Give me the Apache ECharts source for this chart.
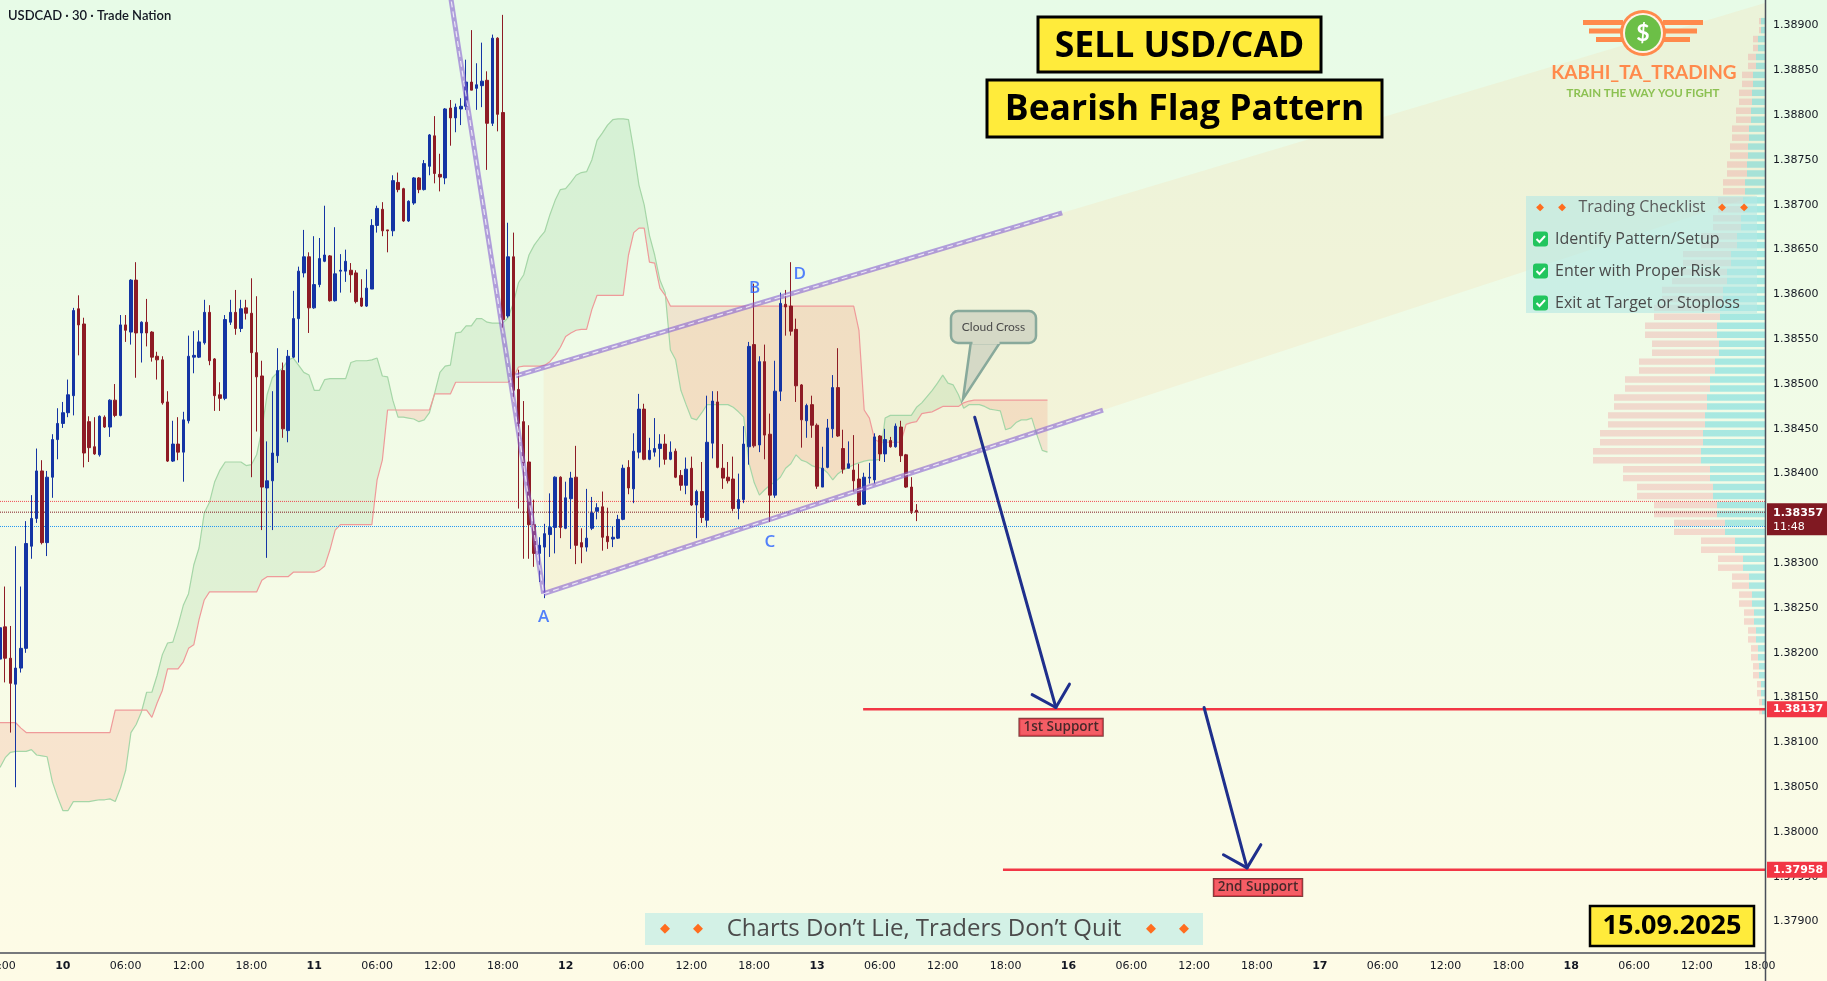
<!DOCTYPE html>
<html>
<head>
<meta charset="utf-8">
<title>USDCAD 30 - Bearish Flag Pattern</title>
<script src="https://cdn.jsdelivr.net/npm/echarts@6/dist/echarts.min.js"></script>
<style>
html, body { margin: 0; padding: 0; overflow: hidden; background: #f3fbe6; }
#chart { width: 1827px; height: 981px; }
</style>
</head>
<body>
<div id="chart"></div>
<script>
// 30 min candles, [open, high, low, close]
var candles = [
  [1.38193, 1.38237, 1.38186, 1.38228], [1.38229, 1.38274, 1.38167, 1.38194], [1.38194, 1.38230, 1.38111, 1.38166], [1.38165, 1.38319, 1.38050, 1.38183],
  [1.38183, 1.38274, 1.38178, 1.38205], [1.38205, 1.38347, 1.38200, 1.38322], [1.38319, 1.38376, 1.38305, 1.38350], [1.38350, 1.38428, 1.38345, 1.38403],
  [1.38403, 1.38415, 1.38321, 1.38323], [1.38323, 1.38403, 1.38308, 1.38396], [1.38396, 1.38444, 1.38373, 1.38438], [1.38438, 1.38473, 1.38416, 1.38456],
  [1.38456, 1.38480, 1.38451, 1.38468], [1.38468, 1.38505, 1.38463, 1.38488], [1.38487, 1.38585, 1.38465, 1.38582], [1.38584, 1.38599, 1.38532, 1.38566],
  [1.38567, 1.38574, 1.38407, 1.38423], [1.38458, 1.38464, 1.38413, 1.38429], [1.38430, 1.38463, 1.38421, 1.38422], [1.38421, 1.38465, 1.38419, 1.38464],
  [1.38463, 1.38465, 1.38451, 1.38452], [1.38452, 1.38483, 1.38441, 1.38482], [1.38482, 1.38500, 1.38463, 1.38465], [1.38465, 1.38577, 1.38464, 1.38566],
  [1.38566, 1.38577, 1.38547, 1.38560], [1.38558, 1.38617, 1.38544, 1.38616], [1.38616, 1.38636, 1.38507, 1.38557], [1.38557, 1.38570, 1.38524, 1.38569],
  [1.38569, 1.38595, 1.38542, 1.38557], [1.38558, 1.38559, 1.38525, 1.38530], [1.38531, 1.38536, 1.38505, 1.38527], [1.38527, 1.38531, 1.38477, 1.38479],
  [1.38480, 1.38492, 1.38413, 1.38414], [1.38414, 1.38459, 1.38413, 1.38433], [1.38433, 1.38463, 1.38415, 1.38424], [1.38424, 1.38469, 1.38391, 1.38460],
  [1.38459, 1.38554, 1.38456, 1.38531], [1.38530, 1.38559, 1.38512, 1.38532], [1.38530, 1.38560, 1.38529, 1.38547], [1.38546, 1.38594, 1.38544, 1.38580],
  [1.38580, 1.38588, 1.38521, 1.38526], [1.38528, 1.38529, 1.38470, 1.38487], [1.38488, 1.38502, 1.38470, 1.38484], [1.38484, 1.38577, 1.38482, 1.38572],
  [1.38569, 1.38594, 1.38566, 1.38580], [1.38580, 1.38605, 1.38555, 1.38562], [1.38562, 1.38594, 1.38558, 1.38584], [1.38585, 1.38594, 1.38572, 1.38579],
  [1.38579, 1.38618, 1.38396, 1.38535], [1.38535, 1.38598, 1.38447, 1.38508], [1.38509, 1.38526, 1.38337, 1.38385], [1.38384, 1.38436, 1.38306, 1.38392],
  [1.38392, 1.38492, 1.38337, 1.38423], [1.38420, 1.38540, 1.38412, 1.38515], [1.38515, 1.38524, 1.38440, 1.38450], [1.38448, 1.38538, 1.38435, 1.38531],
  [1.38530, 1.38604, 1.38529, 1.38573], [1.38573, 1.38631, 1.38524, 1.38626], [1.38624, 1.38672, 1.38619, 1.38642], [1.38642, 1.38647, 1.38557, 1.38585],
  [1.38585, 1.38665, 1.38584, 1.38611], [1.38611, 1.38663, 1.38608, 1.38640], [1.38637, 1.38699, 1.38636, 1.38644], [1.38643, 1.38644, 1.38592, 1.38593],
  [1.38593, 1.38675, 1.38592, 1.38623], [1.38626, 1.38645, 1.38602, 1.38627], [1.38626, 1.38650, 1.38614, 1.38637], [1.38627, 1.38635, 1.38602, 1.38622],
  [1.38624, 1.38627, 1.38590, 1.38592], [1.38596, 1.38617, 1.38586, 1.38587], [1.38587, 1.38628, 1.38586, 1.38607], [1.38606, 1.38684, 1.38606, 1.38677],
  [1.38677, 1.38699, 1.38669, 1.38696], [1.38695, 1.38703, 1.38665, 1.38671], [1.38672, 1.38672, 1.38647, 1.38671], [1.38671, 1.38733, 1.38665, 1.38727],
  [1.38725, 1.38736, 1.38714, 1.38717], [1.38718, 1.38719, 1.38681, 1.38682], [1.38682, 1.38705, 1.38681, 1.38704], [1.38702, 1.38731, 1.38700, 1.38730],
  [1.38730, 1.38731, 1.38713, 1.38717], [1.38717, 1.38750, 1.38716, 1.38746], [1.38743, 1.38779, 1.38733, 1.38778], [1.38777, 1.38799, 1.38724, 1.38735],
  [1.38734, 1.38757, 1.38715, 1.38731], [1.38730, 1.38808, 1.38723, 1.38807], [1.38808, 1.38817, 1.38766, 1.38797], [1.38797, 1.38813, 1.38781, 1.38809],
  [1.38807, 1.38819, 1.38789, 1.38810], [1.38810, 1.38862, 1.38806, 1.38837], [1.38837, 1.38895, 1.38828, 1.38828], [1.38830, 1.38858, 1.38806, 1.38834],
  [1.38833, 1.38881, 1.38809, 1.38838], [1.38839, 1.38849, 1.38739, 1.38791], [1.38791, 1.38890, 1.38788, 1.38886], [1.38886, 1.38887, 1.38782, 1.38801],
  [1.38803, 1.38912, 1.38559, 1.38572], [1.38576, 1.38680, 1.38574, 1.38642], [1.38642, 1.38669, 1.38479, 1.38493], [1.38494, 1.38516, 1.38361, 1.38456],
  [1.38458, 1.38481, 1.38305, 1.38412], [1.38413, 1.38454, 1.38305, 1.38343], [1.38343, 1.38371, 1.38296, 1.38311], [1.38311, 1.38329, 1.38279, 1.38320],
  [1.38318, 1.38344, 1.38261, 1.38333], [1.38332, 1.38378, 1.38307, 1.38340], [1.38340, 1.38397, 1.38311, 1.38396], [1.38396, 1.38397, 1.38328, 1.38340],
  [1.38339, 1.38391, 1.38338, 1.38373], [1.38372, 1.38402, 1.38316, 1.38395], [1.38396, 1.38431, 1.38299, 1.38320], [1.38323, 1.38339, 1.38300, 1.38318],
  [1.38318, 1.38383, 1.38313, 1.38328], [1.38339, 1.38374, 1.38337, 1.38356], [1.38358, 1.38367, 1.38349, 1.38362], [1.38363, 1.38380, 1.38314, 1.38329],
  [1.38330, 1.38362, 1.38316, 1.38324], [1.38327, 1.38341, 1.38318, 1.38329], [1.38328, 1.38354, 1.38327, 1.38349], [1.38349, 1.38410, 1.38348, 1.38406],
  [1.38407, 1.38415, 1.38377, 1.38384], [1.38383, 1.38445, 1.38367, 1.38425], [1.38424, 1.38489, 1.38417, 1.38472], [1.38472, 1.38478, 1.38415, 1.38416],
  [1.38416, 1.38440, 1.38415, 1.38426], [1.38424, 1.38462, 1.38419, 1.38428], [1.38428, 1.38444, 1.38407, 1.38433], [1.38433, 1.38444, 1.38410, 1.38416],
  [1.38416, 1.38436, 1.38415, 1.38424], [1.38425, 1.38428, 1.38395, 1.38396], [1.38398, 1.38404, 1.38381, 1.38387], [1.38387, 1.38418, 1.38377, 1.38405],
  [1.38406, 1.38419, 1.38364, 1.38365], [1.38365, 1.38382, 1.38328, 1.38380], [1.38380, 1.38413, 1.38345, 1.38351], [1.38348, 1.38487, 1.38340, 1.38435],
  [1.38434, 1.38492, 1.38417, 1.38481], [1.38480, 1.38492, 1.38406, 1.38407], [1.38406, 1.38433, 1.38383, 1.38395], [1.38396, 1.38413, 1.38389, 1.38392],
  [1.38394, 1.38419, 1.38358, 1.38361], [1.38361, 1.38400, 1.38349, 1.38371], [1.38371, 1.38453, 1.38367, 1.38433], [1.38430, 1.38547, 1.38410, 1.38542],
  [1.38544, 1.38612, 1.38429, 1.38431], [1.38432, 1.38531, 1.38424, 1.38525], [1.38525, 1.38544, 1.38416, 1.38443], [1.38444, 1.38467, 1.38346, 1.38376],
  [1.38376, 1.38526, 1.38373, 1.38492], [1.38492, 1.38602, 1.38481, 1.38590], [1.38589, 1.38605, 1.38554, 1.38586], [1.38587, 1.38636, 1.38554, 1.38559],
  [1.38561, 1.38573, 1.38480, 1.38498], [1.38499, 1.38500, 1.38429, 1.38460], [1.38459, 1.38478, 1.38440, 1.38476], [1.38477, 1.38487, 1.38440, 1.38454],
  [1.38454, 1.38456, 1.38383, 1.38386], [1.38385, 1.38430, 1.38385, 1.38406], [1.38407, 1.38461, 1.38406, 1.38451], [1.38450, 1.38510, 1.38440, 1.38496],
  [1.38496, 1.38540, 1.38441, 1.38442], [1.38428, 1.38449, 1.38400, 1.38405], [1.38406, 1.38436, 1.38406, 1.38411], [1.38404, 1.38443, 1.38380, 1.38392],
  [1.38394, 1.38411, 1.38364, 1.38365], [1.38366, 1.38401, 1.38365, 1.38396], [1.38395, 1.38412, 1.38389, 1.38396], [1.38393, 1.38445, 1.38389, 1.38441],
  [1.38442, 1.38443, 1.38414, 1.38422], [1.38422, 1.38450, 1.38413, 1.38438], [1.38437, 1.38441, 1.38429, 1.38430], [1.38430, 1.38456, 1.38429, 1.38453],
  [1.38452, 1.38459, 1.38413, 1.38420], [1.38421, 1.38422, 1.38384, 1.38385], [1.38385, 1.38396, 1.38355, 1.38358], [1.38359, 1.38366, 1.38347, 1.38357]
];

// Ichimoku leading span A / span B (plotted 26 bars ahead)
var spanA = [
  1.38072, 1.38083, 1.38089, 1.38090, 1.38090, 1.38090, 1.38092, 1.38086, 1.38085, 1.38084,
  1.38056, 1.38039, 1.38024, 1.38024, 1.38034, 1.38034, 1.38034, 1.38034, 1.38035, 1.38036,
  1.38036, 1.38037, 1.38034, 1.38049, 1.38069, 1.38111, 1.38120, 1.38134, 1.38156, 1.38156,
  1.38175, 1.38198, 1.38211, 1.38212, 1.38231, 1.38253, 1.38266, 1.38298, 1.38317, 1.38356,
  1.38368, 1.38391, 1.38404, 1.38413, 1.38413, 1.38413, 1.38413, 1.38409, 1.38410, 1.38421,
  1.38449, 1.38488, 1.38507, 1.38513, 1.38518, 1.38527, 1.38529, 1.38521, 1.38513, 1.38510,
  1.38493, 1.38493, 1.38505, 1.38506, 1.38506, 1.38506, 1.38506, 1.38524, 1.38526, 1.38526,
  1.38526, 1.38527, 1.38529, 1.38509, 1.38508, 1.38482, 1.38463, 1.38463, 1.38462, 1.38461,
  1.38458, 1.38460, 1.38468, 1.38490, 1.38513, 1.38520, 1.38521, 1.38557, 1.38558, 1.38565,
  1.38565, 1.38573, 1.38573, 1.38569, 1.38568, 1.38568, 1.38568, 1.38574, 1.38590, 1.38613,
  1.38622, 1.38644, 1.38655, 1.38663, 1.38670, 1.38689, 1.38705, 1.38717, 1.38718, 1.38725,
  1.38733, 1.38736, 1.38737, 1.38750, 1.38772, 1.38780, 1.38789, 1.38795, 1.38796, 1.38796,
  1.38795, 1.38761, 1.38722, 1.38700, 1.38666, 1.38644, 1.38616, 1.38602, 1.38538, 1.38527,
  1.38493, 1.38477, 1.38462, 1.38460, 1.38468, 1.38477, 1.38477, 1.38477, 1.38477, 1.38477,
  1.38474, 1.38469, 1.38463, 1.38412, 1.38390, 1.38376, 1.38382, 1.38387, 1.38391, 1.38396,
  1.38406, 1.38411, 1.38421, 1.38415, 1.38413, 1.38409, 1.38407, 1.38406, 1.38401, 1.38393,
  1.38400, 1.38404, 1.38407, 1.38410, 1.38412, 1.38414, 1.38415, 1.38415, 1.38416, 1.38462,
  1.38465, 1.38465, 1.38465, 1.38465, 1.38465, 1.38474, 1.38479, 1.38486, 1.38493, 1.38501,
  1.38510, 1.38501, 1.38499, 1.38488, 1.38473, 1.38477, 1.38477, 1.38477, 1.38475, 1.38472,
  1.38471, 1.38470, 1.38449, 1.38451, 1.38457, 1.38460, 1.38460, 1.38462, 1.38443, 1.38426,
  1.38424
];
var spanB = [
  1.38122, 1.38122, 1.38122, 1.38122, 1.38116, 1.38111, 1.38111, 1.38111, 1.38111, 1.38111,
  1.38111, 1.38111, 1.38111, 1.38111, 1.38111, 1.38111, 1.38111, 1.38111, 1.38111, 1.38111,
  1.38111, 1.38111, 1.38136, 1.38136, 1.38136, 1.38136, 1.38136, 1.38136, 1.38136, 1.38128,
  1.38144, 1.38158, 1.38182, 1.38182, 1.38182, 1.38190, 1.38205, 1.38209, 1.38237, 1.38259,
  1.38268, 1.38268, 1.38268, 1.38268, 1.38268, 1.38268, 1.38268, 1.38268, 1.38268, 1.38268,
  1.38281, 1.38285, 1.38285, 1.38285, 1.38285, 1.38285, 1.38290, 1.38290, 1.38290, 1.38290,
  1.38290, 1.38292, 1.38297, 1.38315, 1.38337, 1.38343, 1.38343, 1.38343, 1.38343, 1.38343,
  1.38343, 1.38343, 1.38393, 1.38415, 1.38471, 1.38471, 1.38471, 1.38471, 1.38471, 1.38471,
  1.38471, 1.38471, 1.38471, 1.38489, 1.38489, 1.38489, 1.38489, 1.38502, 1.38502, 1.38502,
  1.38502, 1.38502, 1.38502, 1.38502, 1.38502, 1.38502, 1.38502, 1.38502, 1.38507, 1.38519,
  1.38520, 1.38520, 1.38520, 1.38520, 1.38521, 1.38525, 1.38532, 1.38541, 1.38553, 1.38557,
  1.38560, 1.38561, 1.38561, 1.38583, 1.38599, 1.38599, 1.38599, 1.38599, 1.38599, 1.38599,
  1.38644, 1.38669, 1.38674, 1.38674, 1.38636, 1.38635, 1.38607, 1.38599, 1.38587, 1.38587,
  1.38587, 1.38587, 1.38587, 1.38587, 1.38587, 1.38587, 1.38587, 1.38587, 1.38587, 1.38587,
  1.38587, 1.38587, 1.38587, 1.38587, 1.38587, 1.38587, 1.38587, 1.38587, 1.38587, 1.38587,
  1.38587, 1.38587, 1.38587, 1.38587, 1.38587, 1.38587, 1.38587, 1.38587, 1.38587, 1.38587,
  1.38587, 1.38587, 1.38587, 1.38587, 1.38560, 1.38471, 1.38462, 1.38438, 1.38435, 1.38435,
  1.38435, 1.38435, 1.38435, 1.38455, 1.38457, 1.38458, 1.38467, 1.38468, 1.38469, 1.38472,
  1.38475, 1.38475, 1.38475, 1.38475, 1.38479, 1.38481, 1.38482, 1.38482, 1.38482, 1.38482,
  1.38482, 1.38482, 1.38482, 1.38482, 1.38482, 1.38482, 1.38482, 1.38482, 1.38482, 1.38482,
  1.38482
];

// time axis: day 9 starts at 18:00, weekend (14, 15) is skipped
var sessionDays = ['9', '10', '11', '12', '13', '16', '17', '18'];
var firstSlot = 36;
var slotCount = 338;

var priceTicks = [1.379, 1.3795, 1.38, 1.3805, 1.381, 1.3815, 1.382, 1.3825, 1.383, 1.3835, 1.384,
  1.3845, 1.385, 1.3855, 1.386, 1.3865, 1.387, 1.3875, 1.388, 1.3885, 1.389];
var yMin = 1.37865, yMax = 1.389286;

// drawings, in [bar index, price]
var poleLine = [[85, 1.38971], [103.8, 1.38266]];
var flagUpper = [[98.5, 1.38509], [202.8, 1.38691]];
var flagLower = [[103.8, 1.38266], [210.6, 1.38471]];
var support1 = [[164.8, 1.38137], [337, 1.38137]];
var support2 = [[191.5, 1.37958], [337, 1.37958]];
var arrows = [[186.1, 1.38463, 201.6, 1.38139], [229.9, 1.38139, 238.1, 1.37960]];
var askPrice = 1.38369, lastPrice = 1.38357, bidPrice = 1.38341;
var countdown = '11:48';
var pointLabels = [['A', 103.8, 1.38240], ['B', 144.1, 1.38607], ['C', 147, 1.38323], ['D', 152.7, 1.38623]];
var supportLabels = [['1st Support', 202.6, 1.38117], ['2nd Support', 240.2, 1.37938]];

// visible range volume profile
var vpPrices = [1.3890, 1.3888, 1.3886, 1.3884, 1.3882, 1.3880, 1.3878, 1.3876, 1.3874, 1.3872,
  1.3870, 1.3868, 1.3866, 1.3864, 1.3862, 1.3860, 1.3858, 1.3856, 1.3854, 1.3852,
  1.3850, 1.3848, 1.3846, 1.3844, 1.3842, 1.3840, 1.3838, 1.3836, 1.3834, 1.3832,
  1.3830, 1.3828, 1.3826, 1.3824, 1.3822, 1.3820, 1.3818, 1.3816, 1.3814];
var vpUp = [4, 7, 9, 12, 13, 14, 16, 17, 18, 20, 22, 24, 28, 34, 38, 42, 45, 48, 46, 50,
  55, 58, 60, 62, 64, 55, 52, 48, 40, 30, 22, 16, 13, 11, 9, 7, 6, 4, 3];
var vpDown = [2, 5, 8, 11, 13, 15, 17, 18, 20, 22, 25, 28, 36, 48, 55, 61, 66, 72, 67, 76,
  85, 93, 97, 103, 108, 87, 76, 63, 51, 34, 25, 17, 13, 10, 8, 7, 6, 4, 3];
var vpScaleMax = 1765;

var categories = [];
for (var d = 0; d < sessionDays.length; d++) {
    for (var s = (d === 0 ? firstSlot : 0); s < 48 && categories.length < slotCount; s++) {
        var hh = Math.floor(s / 2);
        categories.push(s === 0 ? sessionDays[d] : (hh < 10 ? '0' : '') + hh + ':' + (s % 2 ? '30' : '00'));
    }
}
var lastIdx = slotCount - 1;

function lineAt(seg, x) {
    var t = (x - seg[0][0]) / (seg[1][0] - seg[0][0]);
    return seg[0][1] + t * (seg[1][1] - seg[0][1]);
}

var purple = 'rgba(135, 96, 210, 0.6)';
var cloudGreen = 'rgba(76, 175, 80, 0.12)';
var cloudRed = 'rgba(244, 112, 80, 0.16)';
var drawFont = '"Open Sans"';

function trendLine(seg) {
    return [
        { type: 'line', xAxisIndex: 1, yAxisIndex: 0, data: seg, symbol: 'none', silent: true, z: 6,
          lineStyle: { color: purple, width: 5 } },
        { type: 'line', xAxisIndex: 1, yAxisIndex: 0, data: seg, symbol: 'none', silent: true, z: 7,
          lineStyle: { color: 'rgba(255,255,255,0.75)', width: 1.2, type: [6, 4] } }
    ];
}

function priceLine(price, color, label) {
    var sr = {
        type: 'line', xAxisIndex: 1, yAxisIndex: 0, data: [[0, price], [lastIdx, price]],
        symbol: 'none', silent: true, z: 4,
        lineStyle: { color: color, width: 1, type: 'dotted' }
    };
    if (label) sr.endLabel = label;
    return sr;
}

var chart = echarts.init(document.getElementById('chart'));

var series = [
    // projected flag channel
    {
        type: 'custom', xAxisIndex: 1, yAxisIndex: 0, silent: true, z: 1,
        data: [[flagLower[0][0], flagLower[0][1]]],
        renderItem: function (params, api) {
            var x0 = flagLower[0][0], x1 = lastIdx;
            return {
                type: 'polygon',
                shape: { points: [
                    api.coord([x0, lineAt(flagUpper, x0)]), api.coord([x1, lineAt(flagUpper, x1)]),
                    api.coord([x1, lineAt(flagLower, x1)]), api.coord([x0, lineAt(flagLower, x0)])
                ] },
                style: { fill: 'rgba(255, 205, 140, 0.16)' }
            };
        }
    },
    // kumo
    {
        type: 'custom', xAxisIndex: 1, yAxisIndex: 0, silent: true, z: 1,
        data: [[0, spanA[0]]],
        renderItem: function (params, api) {
            var polys = [], top = [], bot = [];
            var curUp = spanA[0] >= spanB[0];
            function flush(up) {
                polys.push({ type: 'polygon', shape: { points: top.concat(bot.slice().reverse()) },
                    style: { fill: up ? cloudGreen : cloudRed } });
            }
            top.push(api.coord([0, spanA[0]]));
            bot.push(api.coord([0, spanB[0]]));
            for (var i = 1; i < spanA.length; i++) {
                var up = spanA[i] >= spanB[i];
                if (up !== curUp) {
                    var d0 = spanA[i - 1] - spanB[i - 1], d1 = spanA[i] - spanB[i];
                    var t = d0 / (d0 - d1);
                    var c = api.coord([i - 1 + t, spanA[i - 1] + t * (spanA[i] - spanA[i - 1])]);
                    top.push(c); bot.push(c);
                    flush(curUp);
                    top = [c]; bot = [c];
                    curUp = up;
                }
                top.push(api.coord([i, spanA[i]]));
                bot.push(api.coord([i, spanB[i]]));
            }
            flush(curUp);
            return { type: 'group', children: polys };
        }
    },
    {
        type: 'line', name: 'Lead 1', xAxisIndex: 1, yAxisIndex: 0, symbol: 'none', silent: true, z: 2,
        data: spanA.map(function (v, i) { return [i, v]; }),
        lineStyle: { color: '#a5d6a7', width: 1.2 }
    },
    {
        type: 'line', name: 'Lead 2', xAxisIndex: 1, yAxisIndex: 0, symbol: 'none', silent: true, z: 2,
        data: spanB.map(function (v, i) { return [i, v]; }),
        lineStyle: { color: '#ef9a9a', width: 1.2 }
    },
    // volume profile
    {
        type: 'custom', xAxisIndex: 2, yAxisIndex: 0, silent: true, z: 1,
        encode: { x: [1, 2], y: 0 },
        data: vpPrices.map(function (p, i) { return [p, vpUp[i], vpDown[i]]; }),
        renderItem: function (params, api) {
            var price = api.value(0), up = api.value(1), dn = api.value(2);
            var base = api.coord([0, price]);
            var xUp = api.coord([up, price])[0];
            var xAll = api.coord([up + dn, price])[0];
            var step = api.size([0, 0.0002])[1];
            var h = step * 0.36;
            var kids = [];
            [-0.25, 0.25].forEach(function (off) {
                var y = base[1] + off * step - h / 2;
                kids.push({ type: 'rect', shape: { x: xUp, y: y, width: base[0] - xUp, height: h },
                    style: { fill: 'rgba(0, 188, 212, 0.3)' } });
                kids.push({ type: 'rect', shape: { x: xAll, y: y, width: xUp - xAll, height: h },
                    style: { fill: 'rgba(239, 120, 130, 0.26)' } });
            });
            return { type: 'group', children: kids };
        }
    },
    priceLine(askPrice, 'rgba(242, 54, 69, 0.9)'),
    priceLine(bidPrice, '#2196f3'),
    priceLine(lastPrice, '#801922', {
        show: true, distance: 2, offset: [0, 7],
        formatter: function () { return '{p|' + lastPrice.toFixed(5) + '}\n{t|' + countdown + '}'; },
        backgroundColor: '#801922', padding: [3, 6, 2, 6],
        rich: {
            p: { color: '#fff', fontSize: 11, fontWeight: 'bold', fontFamily: 'DejaVu Sans', lineHeight: 14 },
            t: { color: '#fff', fontSize: 11, fontFamily: 'DejaVu Sans', lineHeight: 13 }
        }
    }),
    {
        type: 'candlestick', xAxisIndex: 0, yAxisIndex: 0, silent: true, z: 5, barWidth: 3,
        data: candles.map(function (c) { return [c[0], c[3], c[2], c[1]]; }),
        itemStyle: { color: '#1434a4', color0: '#8e1b25', borderColor: '#1434a4', borderColor0: '#8e1b25', borderWidth: 1 }
    }
];

series = series.concat(trendLine(poleLine), trendLine(flagUpper), trendLine(flagLower));

[support1, support2].forEach(function (seg) {
    series.push({
        type: 'line', xAxisIndex: 1, yAxisIndex: 0, data: seg, symbol: 'none', silent: true, z: 6,
        lineStyle: { color: '#f23645', width: 2.5 },
        endLabel: {
            show: true, distance: 2,
            formatter: function (p) { return p.value[1].toFixed(5); },
            backgroundColor: '#f23645', color: '#fff', padding: [3, 6, 2, 6],
            fontSize: 11, fontWeight: 'bold', fontFamily: 'DejaVu Sans'
        }
    });
});

series.push({
    type: 'custom', xAxisIndex: 1, yAxisIndex: 0, silent: true, z: 8,
    encode: { x: [0, 2], y: [1, 3] },
    data: arrows,
    renderItem: function (params, api) {
        var a = api.coord([api.value(0), api.value(1)]);
        var b = api.coord([api.value(2), api.value(3)]);
        var ang = Math.atan2(b[1] - a[1], b[0] - a[0]);
        var len = 27, spread = 0.8;
        var h1 = [b[0] - len * Math.cos(ang - spread), b[1] - len * Math.sin(ang - spread)];
        var h2 = [b[0] - len * Math.cos(ang + spread), b[1] - len * Math.sin(ang + spread)];
        var st = { stroke: '#1f2f8c', lineWidth: 3, fill: null, lineCap: 'round', lineJoin: 'round' };
        return { type: 'group', children: [
            { type: 'line', shape: { x1: a[0], y1: a[1], x2: b[0], y2: b[1] }, style: st },
            { type: 'polyline', shape: { points: [h1, b, h2] }, style: st }
        ] };
    }
});

series.push({
    type: 'scatter', xAxisIndex: 1, yAxisIndex: 0, silent: true, z: 9, symbolSize: 1,
    itemStyle: { color: 'transparent' },
    data: pointLabels.map(function (p) { return { name: p[0], value: [p[1], p[2]] }; }),
    label: { show: true, position: 'inside', formatter: '{b}', color: '#2962ff', fontSize: 17, fontWeight: 600, fontFamily: 'Open Sans' }
});

series.push({
    type: 'scatter', xAxisIndex: 1, yAxisIndex: 0, silent: true, z: 9, symbolSize: 1,
    itemStyle: { color: 'transparent' },
    data: supportLabels.map(function (p) { return { name: p[0], value: [p[1], p[2]] }; }),
    label: {
        show: true, position: 'inside', formatter: '{b}', color: '#1a1a1a', fontSize: 13.5, fontWeight: 600, fontFamily: 'Open Sans',
        backgroundColor: '#f23645', borderColor: '#5a0f14', borderWidth: 1, padding: [2, 4, 1, 4]
    }
});

function checkItem(y, text) {
    return [
        { type: 'rect', z: 101, silent: true, shape: { x: 1533, y: y - 7.5, width: 15, height: 15, r: 3 }, style: { fill: '#22c55e' } },
        { type: 'polyline', z: 102, silent: true, shape: { points: [[1536.5, y], [1539.5, y + 3], [1545, y - 3]] },
          style: { stroke: '#fff', lineWidth: 2, fill: null } },
        { type: 'text', z: 101, silent: true, style: { text: text, x: 1555, y: y, verticalAlign: 'middle', font: '16px ' + drawFont, fill: '#4a4a4a' } }
    ];
}

function diamond(x, y, size) {
    return { type: 'text', z: 101, silent: true, style: { text: '\u25C6', x: x, y: y, align: 'center', verticalAlign: 'middle', font: size + 'px "DejaVu Sans"', fill: '#ff6d1f' } };
}

var graphics = [
    { type: 'rect', z: -10, silent: true, shape: { x: 0, y: 0, width: 1827, height: 981 },
      style: { fill: new echarts.graphic.LinearGradient(0, 0, 0, 1, [{ offset: 0, color: '#e7fbe7' }, { offset: 1, color: '#fefbe6' }]) } },
    { type: 'line', z: 50, silent: true, shape: { x1: 1765.5, y1: 0, x2: 1765.5, y2: 981 }, style: { stroke: '#4a4e59', lineWidth: 1.5 } },
    { type: 'text', z: 100, silent: true, style: { text: 'USDCAD \u00B7 30 \u00B7 Trade Nation', x: 8, y: 16, verticalAlign: 'middle', font: '600 13px Lato', fill: '#131722' } },

    // headline boxes
    { type: 'rect', z: 100, silent: true, shape: { x: 1038, y: 17, width: 283, height: 55 }, style: { fill: '#ffeb3b', stroke: '#000', lineWidth: 3 } },
    { type: 'text', z: 101, silent: true, style: { text: 'SELL USD/CAD', x: 1179.5, y: 47, align: 'center', verticalAlign: 'middle', font: 'bold 35.5px ' + drawFont, fill: '#000' } },
    { type: 'rect', z: 100, silent: true, shape: { x: 987, y: 80, width: 395, height: 57 }, style: { fill: '#ffeb3b', stroke: '#000', lineWidth: 3 } },
    { type: 'text', z: 101, silent: true, style: { text: 'Bearish Flag Pattern', x: 1184.5, y: 110, align: 'center', verticalAlign: 'middle', font: 'bold 35.5px ' + drawFont, fill: '#000' } },

    // logo
    { type: 'rect', z: 100, silent: true, shape: { x: 1583, y: 20, width: 40, height: 5 }, style: { fill: '#ff8a4c' } },
    { type: 'rect', z: 100, silent: true, shape: { x: 1589, y: 28.5, width: 34, height: 5 }, style: { fill: '#ff8a4c' } },
    { type: 'rect', z: 100, silent: true, shape: { x: 1596, y: 37, width: 27, height: 5 }, style: { fill: '#ff8a4c' } },
    { type: 'rect', z: 100, silent: true, shape: { x: 1663, y: 20, width: 40, height: 5 }, style: { fill: '#ff8a4c' } },
    { type: 'rect', z: 100, silent: true, shape: { x: 1663, y: 28.5, width: 34, height: 5 }, style: { fill: '#ff8a4c' } },
    { type: 'rect', z: 100, silent: true, shape: { x: 1663, y: 37, width: 27, height: 5 }, style: { fill: '#ff8a4c' } },
    { type: 'circle', z: 101, silent: true, shape: { cx: 1643, cy: 33, r: 23 }, style: { fill: '#ff8a4c' } },
    { type: 'circle', z: 102, silent: true, shape: { cx: 1643, cy: 33, r: 20 }, style: { fill: '#fff3e6' } },
    { type: 'circle', z: 103, silent: true, shape: { cx: 1643, cy: 33, r: 18 }, style: { fill: '#6cbf47' } },
    { type: 'text', z: 104, silent: true, style: { text: '$', x: 1643, y: 34, align: 'center', verticalAlign: 'middle', font: 'bold 23px Lato', fill: '#fff' } },
    { type: 'text', z: 100, silent: true, style: { text: 'KABHI_TA_TRADING', x: 1644, y: 73, align: 'center', verticalAlign: 'middle', font: 'bold 19px Lato', fill: '#ff8a4c' } },
    { type: 'text', z: 100, silent: true, style: { text: 'TRAIN THE WAY YOU FIGHT', x: 1643, y: 93, align: 'center', verticalAlign: 'middle', font: 'bold 11.5px Lato', fill: '#8cc152' } },

    // checklist
    { type: 'rect', z: 100, silent: true, shape: { x: 1526, y: 196, width: 231, height: 117 }, style: { fill: 'rgba(180, 232, 228, 0.6)' } },
    diamond(1540, 207, 10), diamond(1562, 207, 10), diamond(1722, 207, 10), diamond(1744, 207, 10),
    { type: 'text', z: 101, silent: true, style: { text: 'Trading Checklist', x: 1642, y: 207, align: 'center', verticalAlign: 'middle', font: '16px ' + drawFont, fill: '#5a5a5a' } },

    // bottom banner
    { type: 'rect', z: 100, silent: true, shape: { x: 645, y: 913, width: 558, height: 32 }, style: { fill: '#d3f1e6' } },
    diamond(665, 929, 13), diamond(698, 929, 13), diamond(1151, 929, 13), diamond(1184, 929, 13),
    { type: 'text', z: 101, silent: true, style: { text: 'Charts Don\u2019t Lie, Traders Don\u2019t Quit', x: 924, y: 929, align: 'center', verticalAlign: 'middle', font: '24px ' + drawFont, fill: '#4b4b4b' } },

    // date
    { type: 'rect', z: 100, silent: true, shape: { x: 1590, y: 906, width: 164, height: 40 }, style: { fill: '#ffeb3b', stroke: '#000', lineWidth: 2.5 } },
    { type: 'text', z: 101, silent: true, style: { text: '15.09.2025', x: 1672, y: 926.5, align: 'center', verticalAlign: 'middle', font: 'bold 27px ' + drawFont, fill: '#000' } },

    // cloud cross callout
    { type: 'polygon', z: 100, silent: true, shape: { points: [[971, 341], [1001, 341], [963, 399]] }, style: { fill: '#d5d9c6', stroke: '#88a99b', lineWidth: 2.5 } },
    { type: 'rect', z: 101, silent: true, shape: { x: 951, y: 311, width: 85, height: 32, r: 7 }, style: { fill: '#d5d9c6', stroke: '#88a99b', lineWidth: 2.5 } },
    { type: 'rect', z: 102, silent: true, shape: { x: 972.5, y: 338, width: 27, height: 6 }, style: { fill: '#d5d9c6' } },
    { type: 'text', z: 103, silent: true, style: { text: 'Cloud Cross', x: 993.5, y: 327, align: 'center', verticalAlign: 'middle', font: '12px Lato', fill: '#4a4a4a' } }
];
graphics = graphics.concat(checkItem(239, 'Identify Pattern/Setup'), checkItem(271, 'Enter with Proper Risk'), checkItem(303, 'Exit at Target or Stoploss'));

chart.setOption({
    animation: false,
    backgroundColor: 'transparent',
    grid: { left: 0, right: 62, top: 0, bottom: 28, containLabel: false, outerBoundsMode: 'none' },
    xAxis: [
        {
            type: 'category', data: categories, boundaryGap: false,
            axisLine: { onZero: false, lineStyle: { color: '#4a4e59', width: 1.5 } },
            axisTick: { show: false },
            splitLine: { show: false },
            axisLabel: {
                interval: function (index) { return index % 12 === 0; },
                margin: 8, color: '#131722', fontSize: 11, fontFamily: 'DejaVu Sans',
                formatter: function (v) { return v.indexOf(':') < 0 ? '{d|' + v + '}' : v; },
                rich: { d: { fontSize: 11, fontWeight: 'bold', fontFamily: 'DejaVu Sans', color: '#131722' } }
            }
        },
        { type: 'value', min: 0, max: lastIdx, show: false },
        { type: 'value', min: 0, max: vpScaleMax, inverse: true, show: false }
    ],
    yAxis: [{
        type: 'value', position: 'right', min: yMin, max: yMax,
        axisLine: { show: false, onZero: false },
        axisTick: { show: false },
        splitLine: { show: false },
        axisLabel: {
            customValues: priceTicks, margin: 8,
            formatter: function (v) { return v.toFixed(5); },
            color: '#131722', fontSize: 11, fontFamily: 'DejaVu Sans'
        }
    }],
    series: series,
    graphic: graphics
});
</script>
</body>
</html>
